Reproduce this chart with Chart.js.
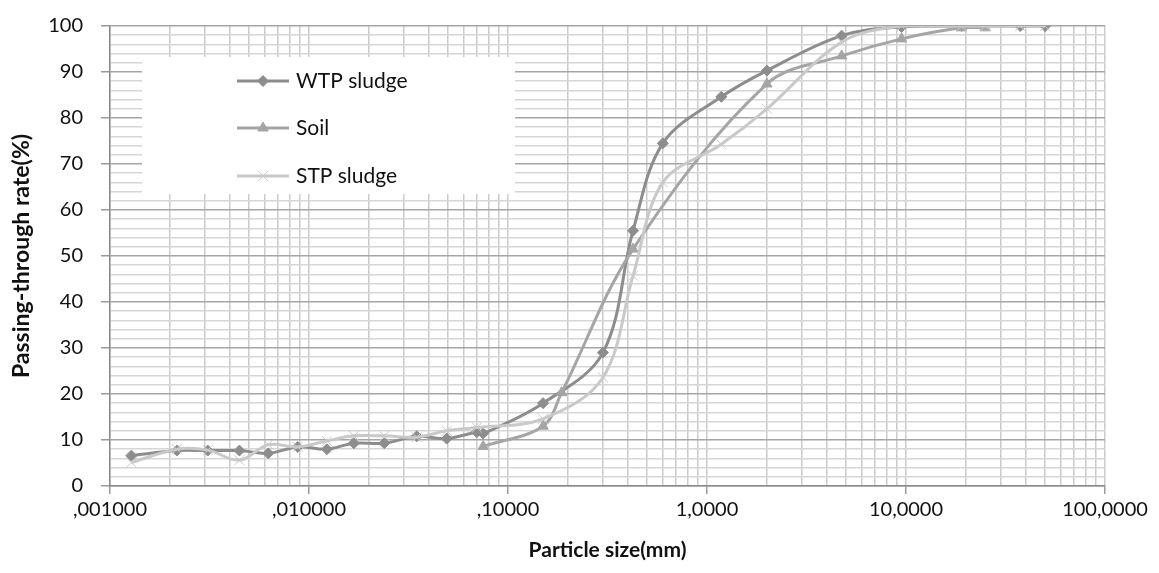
<!DOCTYPE html>
<html>
<head>
<meta charset="utf-8">
<script src="https://cdn.jsdelivr.net/npm/chart.js@4"></script>
<style>
  body { margin: 0; background: #fff; }
</style>
</head>
<body>
<canvas id="graficoGranulometria" width="1159" height="573"></canvas>
<script>
// datos
const wtpSize = [0.00128, 0.00217, 0.0031, 0.00447, 0.00624, 0.00877, 0.0123, 0.0168, 0.0239, 0.0348, 0.0492, 0.0697, 0.075, 0.15, 0.3, 0.425, 0.6, 1.18, 2, 4.75, 9.5, 19, 37.5, 50];
const wtpPassing = [6.6, 7.7, 7.7, 7.7, 7.1, 8.5, 8.0, 9.3, 9.3, 10.8, 10.3, 11.7, 11.4, 18, 29, 55.5, 74.5, 84.6, 90.3, 97.9, 99.8, 100, 100, 100];

const soilSize = [0.075, 0.15, 0.186, 0.425, 2, 4.75, 9.5, 19, 25];
const soilPassing = [8.6, 13, 20.3, 51.5, 87.4, 93.5, 97.2, 99.6, 99.6];

const stpSize = [0.00128, 0.00217, 0.0031, 0.00447, 0.00624, 0.00877, 0.0123, 0.0168, 0.0239, 0.0348, 0.0492, 0.0697, 0.15, 0.3, 0.425, 0.6, 1.18, 2, 4.75, 9.5, 19, 25, 37.5, 50];
const stpPassing = [5.1, 8.0, 7.8, 5.6, 9.0, 8.5, 9.8, 10.9, 10.9, 10.6, 12.0, 12.7, 14.6, 23.6, 45.7, 66, 74.3, 82, 96.5, 100, 100, 100, 100, 100];

const xTickValues = [0.001, 0.01, 0.1, 1, 10, 100];
const xTickLabels = [",001000", ",010000", ",10000", "1,0000", "10,0000", "100,0000"];
const yTickValues = [0, 10, 20, 30, 40, 50, 60, 70, 80, 90, 100];

const series = [
    { label: "WTP sludge", size: wtpSize, passing: wtpPassing, color: "#8d8d8d", point: "rectRot", radius: 5.5, order: 2 },
    { label: "Soil", size: soilSize, passing: soilPassing, color: "#a5a5a5", point: "triangle", radius: 6, order: 1 },
    { label: "STP sludge", size: stpSize, passing: stpPassing, color: "#c9c9c9", point: "crossRot", radius: 7, order: 0 }
];

function esDecada(v) {
    const l = Math.log10(v);
    return Math.abs(l - Math.round(l)) < 1e-6;
}

// leyenda dentro del area del grafico (como en Excel)
const leyendaInterna = {
    id: "leyendaInterna",
    beforeDatasetsDraw(chart) {
        const ctx = chart.ctx;
        ctx.save();
        ctx.fillStyle = "#fff";
        ctx.fillRect(142, 57, 373, 137);
        const filas = [81, 128, 176];
        series.forEach((s, i) => {
            const y = filas[i];
            ctx.strokeStyle = s.color;
            ctx.fillStyle = s.color;
            ctx.lineWidth = 3;
            ctx.beginPath();
            ctx.moveTo(237, y);
            ctx.lineTo(289, y);
            ctx.stroke();
            ctx.lineWidth = 1;
            Chart.helpers.drawPoint(ctx, {
                pointStyle: s.point,
                radius: s.radius,
                borderWidth: 1,
                rotation: 0
            }, 263, y);
            ctx.fillStyle = "#111";
            ctx.font = "21px Lato";
            ctx.textBaseline = "middle";
            ctx.textAlign = "left";
            ctx.fillText(s.label, 296, y);
        });
        ctx.restore();
    }
};

const ctx = document.getElementById("graficoGranulometria");

new Chart(ctx, {
    type: "line",
    data: {
        datasets: series.map(s => ({
            label: s.label,
            data: s.size.map((x, i) => ({ x: x, y: s.passing[i] })),
            borderColor: s.color,
            backgroundColor: s.color,
            pointBackgroundColor: s.color,
            pointBorderColor: s.color,
            pointStyle: s.point,
            pointRadius: s.radius,
            pointBorderWidth: 1,
            borderWidth: 3,
            tension: 0.35,
            fill: false,
            order: s.order
        }))
    },
    options: {
        responsive: false,
        devicePixelRatio: 1,
        animation: false,
        layout: { padding: { top: 26, right: 54, left: 0, bottom: 0 } },
        plugins: {
            legend: { display: false },
            tooltip: { enabled: false }
        },
        scales: {
            x: {
                type: "logarithmic",
                min: 0.001,
                max: 100,
                afterBuildTicks: scale => {
                    const ticks = [];
                    for (let e = -3; e < 2; e++) {
                        for (let k = 1; k <= 9; k++) {
                            ticks.push({ value: k * Math.pow(10, e) });
                        }
                    }
                    ticks.push({ value: 100 });
                    scale.ticks = ticks;
                },
                afterFit: scale => { scale.height = 87; },
                ticks: {
                    autoSkip: false,
                    maxRotation: 0,
                    padding: 4,
                    color: "#111",
                    font: { family: "Lato", size: 20 },
                    callback: (value) => {
                        const idx = xTickValues.findIndex(v => Math.abs(Math.log10(v) - Math.log10(value)) < 1e-6);
                        return idx >= 0 ? xTickLabels[idx] : "";
                    }
                },
                grid: {
                    color: "#cbcbcb",
                    lineWidth: 1.5,
                    tickLength: 8,
                    tickColor: c => (c.tick && esDecada(c.tick.value)) ? "#9a9a9a" : "rgba(0,0,0,0)"
                },
                border: { color: "#8a8a8a", width: 1.5 },
                title: {
                    display: true,
                    text: "Particle size(mm)",
                    color: "#111",
                    font: { family: "Lato", size: 21, weight: "bold" },
                    padding: { top: 0, bottom: 10 }
                }
            },
            y: {
                min: 0,
                max: 100,
                afterBuildTicks: scale => {
                    const ticks = [];
                    for (let v = 0; v <= 100; v += 2) ticks.push({ value: v });
                    scale.ticks = ticks;
                },
                afterFit: scale => {
                    scale.width = 110;
                    scale.paddingTop = 12;
                    scale.paddingBottom = 12;
                },
                ticks: {
                    autoSkip: false,
                    padding: 18,
                    color: "#111",
                    font: { family: "Lato", size: 20 },
                    callback: value => yTickValues.includes(value) ? String(value) : ""
                },
                grid: {
                    color: c => (c.tick && c.tick.value % 10 === 0) ? "#a6a6a6" : "#d6d6d6",
                    lineWidth: 1.5,
                    tickLength: 9,
                    tickColor: c => (c.tick && c.tick.value % 10 === 0) ? "#9a9a9a" : "rgba(0,0,0,0)"
                },
                border: { color: "#8a8a8a", width: 1.5 },
                title: {
                    display: true,
                    text: "Passing-through rate(%)",
                    color: "#111",
                    font: { family: "Lato", size: 23, weight: "bold" },
                    padding: { top: 8, bottom: 0 }
                }
            }
        }
    },
    plugins: [leyendaInterna]
});
</script>
</body>
</html>
